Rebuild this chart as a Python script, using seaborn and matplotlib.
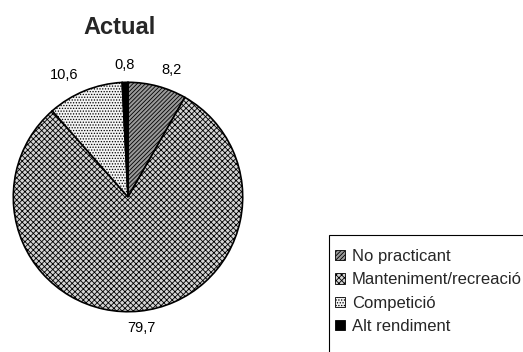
import matplotlib
matplotlib.use("Agg")
import matplotlib.pyplot as plt
from matplotlib.patches import Patch, Rectangle
import seaborn as sns

sns.set_theme(style="white")
plt.rcParams["font.family"] = ["Liberation Sans", "DejaVu Sans"]
plt.rcParams["hatch.linewidth"] = 0.6

categories = ["No practicant", "Manteniment/recreació", "Competició", "Alt rendiment"]
values = [8.2, 79.7, 10.6, 0.8]
value_labels = [f"{v:.1f}".replace(".", ",") for v in values]
title = "Actual"

facecolors = ["#9a9a9a", "#d4d4d4", "#f4f4f4", "#000000"]
hatches = ["////////", "xxxxxx", "......", ""]

fig = plt.figure(figsize=(5.23, 3.52), dpi=100)
ax = fig.add_axes([11 / 523, 1 - 314 / 352, 234 / 523, 234 / 352])

wedges, texts = ax.pie(
    values,
    labels=value_labels,
    startangle=90,
    counterclock=False,
    colors=facecolors,
    labeldistance=1.15,
    wedgeprops=dict(edgecolor="black", linewidth=1.2),
    textprops=dict(fontsize=10.5, color="black"),
)
for w, h in zip(wedges, hatches):
    w.set_hatch(h)
# labels sitting close to the vertical axis are centred over their wedge
for t in (texts[1], texts[3]):
    t.set_ha("center")
ax.set_xlim(-1.02, 1.02)
ax.set_ylim(-1.02, 1.02)
ax.set_aspect("equal")

fig.text(120 / 523, 1 - 28 / 352, title, ha="center", va="center",
         fontsize=17, fontweight="bold")

# legend box runs off the right and bottom edges of the figure
fig.patches.append(Rectangle((329 / 523, -0.05), 0.5, (352 - 235) / 352 + 0.05,
                             transform=fig.transFigure, facecolor="white",
                             edgecolor="black", linewidth=0.8, zorder=1))

handles = [Patch(facecolor=c, edgecolor="black", hatch=h, linewidth=0.6)
           for c, h in zip(facecolors, hatches)]
leg = fig.legend(handles, categories, loc="upper left",
                 bbox_to_anchor=(335 / 523, 1 - 249 / 352),
                 frameon=False, fontsize=12,
                 handlelength=0.6, handleheight=0.6, handletextpad=0.4,
                 labelspacing=0.5, borderpad=0, borderaxespad=0)
leg.set_zorder(2)

fig.savefig("out.png", dpi=100)
